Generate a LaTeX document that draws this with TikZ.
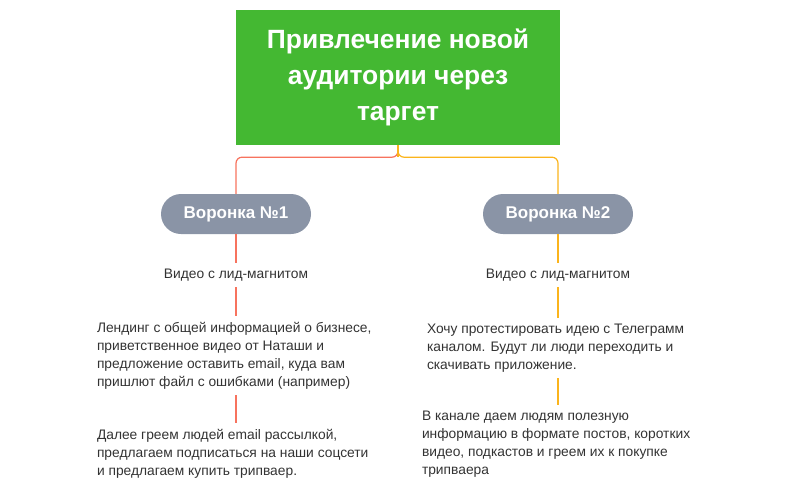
\documentclass[tikz,border=0pt]{standalone}
\usepackage{fontspec}
\setmainfont{Liberation Sans}
\usetikzlibrary{positioning}
\definecolor{topgreen}{HTML}{44B832}
\definecolor{pillgray}{HTML}{8A94A6}
\definecolor{redline}{HTML}{F7735E}
\definecolor{yellowline}{HTML}{FBB41C}
\definecolor{txtgray}{HTML}{333333}
\tikzset{
  pill/.style={fill=pillgray, rounded corners=20pt, minimum width=150pt, minimum height=40pt,
    text=white, font=\fontsize{17}{20}\selectfont\bfseries},
  stage/.style={inner sep=0pt, outer sep=6pt, text=txtgray, font=\fontsize{13.8}{18}\selectfont},
  block/.style={stage, align=left, anchor=north west},
  red edge/.style={draw=redline, line width=1.2pt},
  yellow edge/.style={draw=yellowline, line width=1.2pt},
}
\begin{document}
\begin{tikzpicture}[x=1pt, y=-1pt]
  \useasboundingbox (0,0) rectangle (796,493);

  % Define nodes
  \node[fill=topgreen, minimum width=324pt, minimum height=135pt, text=white, align=center,
    font=\fontsize{26.4}{36}\selectfont\bfseries] (root) at (398,77.5)
    {Привлечение новой\\аудитории через\\таргет};

  \node[pill] (fun1) at (236,214) {Воронка №1};
  \node[pill] (fun2) at (558,214) {Воронка №2};

  \node[stage] (vid1) at (236,275) {Видео с лид-магнитом};
  \node[stage] (vid2) at (558,275) {Видео с лид-магнитом};

  \node[block] (land1) at (91,316) {Лендинг с общей информацией о бизнесе,\\приветственное видео от Наташи и\\предложение оставить email, куда вам\\пришлют файл с ошибками (например)};
  \node[block] (mail1) at (91,423) {Далее греем людей email рассылкой,\\предлагаем подписаться на наши соцсети\\и предлагаем купить трипваер.};

  \node[block] (test2) at (421,318) {Хочу протестировать идею с Телеграмм\\каналом. Будут ли люди переходить и\\скачивать приложение.};
  \node[block] (chan2) at (416,405) {В канале даем людям полезную\\информацию в формате постов, коротких\\видео, подкастов и греем их к покупке\\трипваера};

  % Connect nodes
  \draw[red edge, rounded corners=6pt] (root.south) -- ++(0,12) -| (fun1.north);
  \draw[yellow edge, rounded corners=6pt] (root.south) -- ++(0,12) -| (fun2.north);
  \draw[yellow edge] (root.south) -- ++(0,12);

  \draw[red edge] (fun1) -- (vid1);
  \draw[red edge] (vid1) -- (vid1 |- land1.north);
  \draw[red edge] (vid1 |- land1.south) -- (vid1 |- mail1.north);

  \draw[yellow edge] (fun2) -- (vid2);
  \draw[yellow edge] (vid2) -- (vid2 |- test2.north);
  \draw[yellow edge] (vid2 |- test2.south) -- (vid2 |- chan2.north);

\end{tikzpicture}
\end{document}
